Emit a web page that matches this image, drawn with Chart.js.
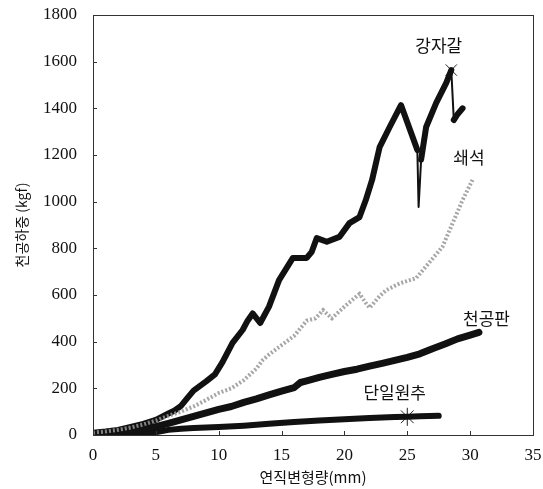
<!DOCTYPE html>
<html>
<head>
<meta charset="utf-8">
<script src="https://cdn.jsdelivr.net/npm/chart.js@4"></script>
<style>
  html, body { margin: 0; padding: 0; background: #fff; }
  #wrap { width: 543px; height: 489px; }
</style>
</head>
<body>
<div id="wrap"><canvas id="c" width="543" height="489"></canvas></div>
<script>
// ---- data ----
const seriesNames = ['강자갈', '쇄석', '천공판', '단일원추'];

const gravelX = [0, 1, 2, 3, 4, 5, 6, 6.5, 7, 7.5, 8, 9, 9.7, 10.3, 11.1, 11.9, 12.3, 12.7, 13.3, 14.0, 14.8, 15.9, 17.0, 17.4, 17.8, 18.6, 19.6, 20.4, 21.2, 21.7, 22.2, 22.8, 23.6, 24.5, 25.8, 25.9, 26.1, 26.5, 27.3, 28.1, 28.5, 28.7, 29.0, 29.4];
const gravelY = [10, 15, 22, 35, 48, 65, 92, 105, 125, 158, 190, 230, 260, 312, 395, 450, 490, 521, 480, 550, 664, 759, 759, 785, 844, 828, 849, 908, 934, 1007, 1093, 1234, 1320, 1414, 1221, 977, 1180, 1320, 1423, 1509, 1564, 1350, 1375, 1400];

const crushedX = [0, 1, 2, 3, 4, 5, 6, 7, 8, 9, 10, 11, 12, 13, 13.5, 14, 15, 16, 17, 17.7, 18.3, 19.0, 20.1, 21.2, 21.7, 22.0, 22.8, 23.3, 24.4, 25.7, 26.7, 27.8, 28.6, 29.4, 30.2];
const crushedY = [10, 15, 22, 32, 45, 62, 82, 100, 122, 150, 180, 200, 235, 285, 321, 345, 385, 425, 490, 500, 535, 500, 555, 605, 566, 545, 595, 620, 650, 672, 736, 807, 907, 1007, 1095];

const plateX = [0, 1, 2, 3, 4, 5, 6, 7, 8, 9, 10, 11, 12, 13, 14, 15, 16, 16.5, 17, 18, 19, 20, 21, 22, 23, 24, 25, 26, 27, 28, 29, 30, 30.7];
const plateY = [3, 7, 13, 20, 28, 36, 50, 65, 80, 95, 110, 122, 140, 155, 172, 188, 203, 225, 232, 247, 260, 272, 282, 295, 307, 320, 333, 348, 370, 390, 412, 428, 440];

const coneX = [0, 2, 4, 5, 6, 7, 8, 10, 12, 14, 16, 18, 20, 22, 24, 25, 26, 27.5];
const coneY = [0, 3, 8, 12, 22, 27, 30, 34, 40, 48, 56, 62, 68, 73, 77, 78, 80, 82];

// failure markers
const gravelMarkX = [28.5];
const gravelMarkY = [1564];
const coneMarkX = [25];
const coneMarkY = [78];

// axis ticks
const xTicks = [0, 5, 10, 15, 20, 25, 30, 35];
const yTicks = [0, 200, 400, 600, 800, 1000, 1200, 1400, 1600, 1800];

const xTitle = '연직변형량(mm)';
const yTitle = '천공하중 (kgf)';

// annotation text placed near each curve (data coordinates)
const labelX = [27.5, 29.9, 31.3, 24.0];
const labelY = [1667, 1191, 501, 184];

// ---- build ----
const pts = (xs, ys) => xs.map((x, i) => ({ x: x, y: ys[i] }));

const FONT = '"Liberation Serif", serif';
const KFONT = '"Noto Sans CJK KR", sans-serif';

const framePlugin = {
  id: 'frame',
  afterDatasetsDraw(chart) {
    const { ctx, chartArea: a, scales } = chart;
    ctx.save();
    ctx.strokeStyle = '#333';
    ctx.lineWidth = 1;
    ctx.strokeRect(Math.round(a.left) + 0.5, Math.round(a.top) + 0.5, Math.round(a.right - a.left), Math.round(a.bottom - a.top));
    ctx.beginPath();
    xTicks.forEach(v => {
      const px = Math.round(scales.x.getPixelForValue(v)) + 0.5;
      ctx.moveTo(px, a.bottom); ctx.lineTo(px, a.bottom - 4);
    });
    yTicks.forEach(v => {
      const py = Math.round(scales.y.getPixelForValue(v)) + 0.5;
      ctx.moveTo(a.left, py); ctx.lineTo(a.left + 4, py);
    });
    ctx.stroke();
    // curve labels
    ctx.fillStyle = '#111';
    ctx.font = '17px ' + KFONT;
    ctx.textAlign = 'center';
    ctx.textBaseline = 'middle';
    seriesNames.forEach((n, i) => {
      ctx.fillText(n, scales.x.getPixelForValue(labelX[i]), scales.y.getPixelForValue(labelY[i]));
    });
    ctx.restore();
  }
};

function build() {
  new Chart(document.getElementById('c'), {
    type: 'line',
    data: {
      datasets: [
        {
          label: seriesNames[1],
          data: pts(crushedX, crushedY),
          borderColor: 'rgba(150,150,150,0.85)',
          borderWidth: 4,
          borderDash: [2, 2],
          pointRadius: 0,
          tension: 0
        },
        {
          label: seriesNames[0],
          data: pts(gravelX, gravelY),
          borderColor: '#111',
          borderWidth: 6,
          borderJoinStyle: 'round',
          borderCapStyle: 'round',
          pointRadius: 0,
          tension: 0,
          segment: {
            borderWidth: c => {
              const dx = Math.abs(c.p1.parsed.x - c.p0.parsed.x);
              const dy = Math.abs(c.p1.parsed.y - c.p0.parsed.y);
              return dy / Math.max(dx, 1e-6) > 800 ? 2 : 6;
            }
          }
        },
        {
          label: seriesNames[2],
          data: pts(plateX, plateY),
          borderColor: '#111',
          borderWidth: 7,
          borderJoinStyle: 'round',
          borderCapStyle: 'round',
          pointRadius: 0,
          tension: 0
        },
        {
          label: seriesNames[3],
          data: pts(coneX, coneY),
          borderColor: '#111',
          borderWidth: 6,
          borderJoinStyle: 'round',
          borderCapStyle: 'round',
          pointRadius: 0,
          tension: 0
        },
        {
          label: 'mark1',
          data: pts(gravelMarkX, gravelMarkY),
          showLine: false,
          pointStyle: 'crossRot',
          pointRadius: 8,
          pointBorderColor: '#222',
          pointBorderWidth: 1,
          pointBackgroundColor: 'transparent'
        },
        {
          label: 'mark2',
          data: pts(coneMarkX, coneMarkY),
          showLine: false,
          pointStyle: 'star',
          pointRadius: 9,
          pointBorderColor: '#222',
          pointBorderWidth: 1,
          pointBackgroundColor: 'transparent'
        }
      ]
    },
    options: {
      responsive: false,
      animation: false,
      events: [],
      layout: { padding: { top: 15, right: 9, left: 0, bottom: 0 } },
      plugins: { legend: { display: false }, tooltip: { enabled: false } },
      scales: {
        x: {
          type: 'linear',
          min: 0, max: 35,
          afterBuildTicks: s => { s.ticks = xTicks.map(v => ({ value: v })); },
          afterFit: s => { s.height = 54; s.paddingLeft = 0; s.paddingRight = 0; },
          grid: { display: false },
          border: { display: false },
          ticks: { padding: 2, color: '#111', font: { family: FONT, size: 17 }, maxRotation: 0, callback: v => String(v) },
          title: { display: true, text: xTitle, color: '#111', font: { family: KFONT, size: 15 }, padding: { top: 0, bottom: 3 } }
        },
        y: {
          type: 'linear',
          min: 0, max: 1800,
          afterBuildTicks: s => { s.ticks = yTicks.map(v => ({ value: v })); },
          afterFit: s => { s.width = 93; s.paddingTop = 0; s.paddingBottom = 0; },
          grid: { display: false },
          border: { display: false },
          ticks: { padding: 8, color: '#111', font: { family: FONT, size: 17 }, callback: v => String(v) },
          title: { display: true, text: yTitle, color: '#111', font: { family: KFONT, size: 14 }, padding: { top: 13, bottom: 4 } }
        }
      }
    },
    plugins: [framePlugin]
  });
}

Promise.all([
  document.fonts.load('17px "Liberation Serif"', '0123456789'),
  document.fonts.load('15px "Noto Sans CJK KR"', '연직변형량천공하중강자갈쇄석판단일원추')
]).then(build, build);
</script>
</body>
</html>
